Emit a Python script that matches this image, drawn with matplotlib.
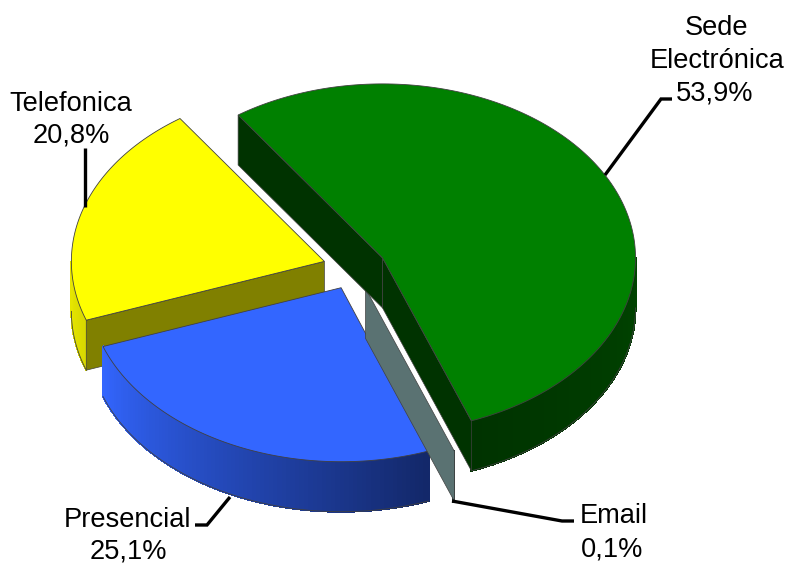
import numpy as np
import matplotlib
matplotlib.use("Agg")
import matplotlib.pyplot as plt
from matplotlib.collections import PolyCollection
from matplotlib.colors import to_rgb

categories = ["Sede\nElectrónica", "Email", "Presencial", "Telefonica"]
values = [53.9, 0.1, 25.1, 20.8]
labels = ["53,9%", "0,1%", "25,1%", "20,8%"]

# pie geometry in pixels
cx, cy = 354.5, 268
rx, ry = 253, 174
depth = 50
explode = 0.125
start = -34.8
edge = "#404040"


def point(ang, ox, oy, r=1.0):
    a = np.radians(ang)
    return ox + r * rx * np.sin(a), oy - r * ry * np.cos(a)


def slices():
    out = []
    a = start
    for v in values:
        span = v / sum(values) * 360
        mid = a + span / 2
        ox, oy = point(mid, cx, cy, explode)
        out.append((a, a + span, ox, oy))
        a += span
    return out


def top(ax, s, color, z):
    a0, a1, ox, oy = s
    t = np.linspace(a0, a1, 200)
    xs, ys = point(t, ox, oy)
    ax.fill(np.r_[ox, xs], np.r_[oy, ys], fc=color, ec=edge, lw=0.6, zorder=z)


def wall(ax, s, ang, color, z):
    a0, a1, ox, oy = s
    x, y = point(ang, ox, oy)
    ax.fill([ox, x, x, ox], [oy, y, y + depth, oy + depth], fc=color, ec=edge, lw=0.5, zorder=z)


def side(ax, s, a0, a1, c0, c1, z, n=90):
    # outer rim, shaded from c0 to c1 along the arc
    ox, oy = s[2], s[3]
    t = np.linspace(a0, a1, n)
    xs, ys = point(t, ox, oy)
    polys = []
    cols = []
    c0, c1 = np.array(to_rgb(c0)), np.array(to_rgb(c1))
    for i in range(len(t) - 1):
        polys.append([(xs[i], ys[i]), (xs[i + 1], ys[i + 1]), (xs[i + 1], ys[i + 1] + depth), (xs[i], ys[i] + depth)])
        cols.append(c0 + (c1 - c0) * i / max(len(t) - 2, 1))
    ax.add_collection(PolyCollection(polys, facecolors=cols, edgecolors=cols, linewidths=0.8,
                                     antialiaseds=False, zorder=z))
    ax.plot(xs, ys + depth, color=edge, lw=0.6, zorder=z)


plt.rcParams["font.family"] = ["Liberation Sans", "DejaVu Sans"]
fig = plt.figure(figsize=(7.87, 5.64), dpi=100)
ax = fig.add_axes([0, 0, 1, 1])
ax.set_xlim(0, 787)
ax.set_ylim(564, 0)
ax.axis("off")

green, email, blue, yellow = slices()

# yellow
side(ax, yellow, yellow[0], 270, "#d8d800", "#e6e600", 1)
wall(ax, yellow, yellow[0], "#808000", 2)
top(ax, yellow, "#ffff00", 3)

# blue
side(ax, blue, blue[1], blue[0], "#3366ff", "#13286a", 4)
top(ax, blue, "#3366ff", 5)

# email
side(ax, email, email[0], email[1], "#2a3a3a", "#2a3a3a", 6, n=4)
wall(ax, email, email[0], "#5a7272", 6)

# green
side(ax, green, 90, green[1], "#004400", "#003300", 7)
wall(ax, green, green[0], "#003300", 8)
wall(ax, green, green[1], "#003300", 8)
top(ax, green, "#008000", 9)

# leader lines
lc = dict(color="black", lw=2.4, solid_capstyle="butt", solid_joinstyle="miter", zorder=10)
ax.plot([605, 661, 672], [175, 99, 99], **lc)
ax.plot([84.5, 84.5], [207, 148], **lc)
ax.plot([230, 207, 195], [497, 525, 525], **lc)
ax.plot([452, 562, 574], [501, 521, 521], **lc)

fs = 19.6
tk = dict(fontsize=fs, ha="center", va="baseline", color="black", zorder=11)
ax.text(717, 35, "Sede", **tk)
ax.text(717, 68, "Electrónica", **tk)
ax.text(715, 101, labels[0], **tk)
ax.text(71, 111, categories[3], **tk)
ax.text(71, 143, labels[3], **tk)
ax.text(128, 527, categories[2], **tk)
ax.text(128, 558, labels[2], **tk)
ax.text(614, 523, categories[1], **tk)
ax.text(612, 556, labels[1], **tk)

fig.savefig("out.png", dpi=100)
